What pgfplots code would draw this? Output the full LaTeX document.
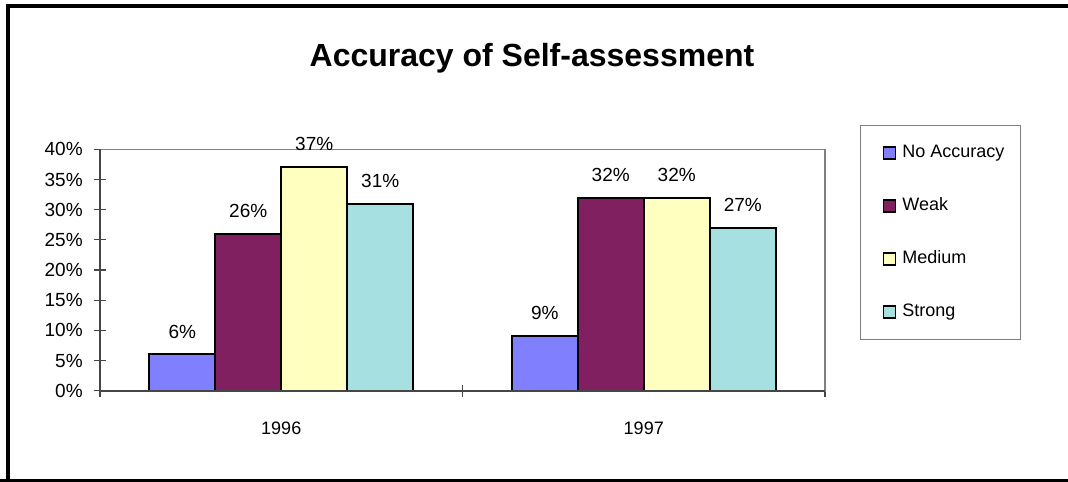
\documentclass[border=0pt]{standalone}
\usepackage{pgfplots}
\pgfplotsset{compat=1.18}
\usepackage{fontspec}
\setmainfont{Liberation Sans}

\definecolor{noacc}{RGB}{128,128,255}
\definecolor{weak}{RGB}{128,32,96}
\definecolor{medium}{RGB}{255,255,192}
\definecolor{strong}{RGB}{166,224,224}
\definecolor{frame}{RGB}{128,128,128}
\definecolor{axisdark}{RGB}{70,70,70}

\begin{document}
\begin{tikzpicture}
\useasboundingbox (0pt,0pt) rectangle (534pt,240.5pt);
% outer chart frame (right side runs off the page)
\draw[line width=2pt,line join=miter] (545pt,237.5pt) -- (4pt,237.5pt) -- (4pt,-2pt);
\draw[line width=2pt] (0pt,0pt) -- (545pt,0pt);
% chart title
\node[font=\fontsize{16}{19}\selectfont\bfseries] at (266pt,211.5pt) {Accuracy of Self-assessment};
\begin{axis}[
  scale only axis,
  width=362.5pt, height=120.7pt,
  at={(50pt,45.15pt)}, anchor=south west,
  ybar=0pt, bar width=33pt,
  xmin=-0.5, xmax=1.5, ymin=0, ymax=40,
  xtick={0,1}, xticklabels={1996,1997},
  minor xtick={-0.5,0.5,1.5},
  major x tick style={draw=none},
  ytick={0,5,...,40},
  yticklabels={0\%,5\%,10\%,15\%,20\%,25\%,30\%,35\%,40\%},
  tick pos=left,
  tick align=center,
  major tick length=6.3pt, minor tick length=6pt,
  tick style={axisdark, line width=0.6pt},
  axis line style={frame, line width=0.8pt},
  tick label style={font=\fontsize{9.5}{11}\selectfont},
  yticklabel style={anchor=east, inner xsep=0pt, xshift=-5.3pt},
  xticklabel style={font=\fontsize{9}{11}\selectfont, anchor=base, yshift=-18.6pt},
  /pgf/number format/assume math mode=true,
  clip=false,
  nodes near coords={\pgfmathprintnumber{\pgfplotspointmeta}\%},
  every node near coord/.append style={font=\fontsize{9.5}{11}\selectfont, anchor=center, yshift=11.5pt},
  legend cell align=left,
  legend image code/.code={\path (0pt,0pt); \draw[#1,line width=0.8pt] (3pt,-3pt) rectangle (9pt,3pt);},
  legend style={at={(1.0483,1.1007)}, anchor=north west, draw=frame, line width=0.6pt,
    fill=white, font=\fontsize{9}{11}\selectfont,
    inner xsep=8pt, inner ysep=9.6pt, row sep=18.2pt,
    nodes={inner sep=0pt, text height=6.5pt, text depth=1.8pt},
    /tikz/every odd column/.append style={column sep=3pt}},
]
\addplot[draw=black, line width=1pt, fill=noacc] coordinates {(0,6) (1,9)};
\addplot[draw=black, line width=1pt, fill=weak] coordinates {(0,26) (1,32)};
\addplot[draw=black, line width=1pt, fill=medium] coordinates {(0,37) (1,32)};
\addplot[draw=black, line width=1pt, fill=strong] coordinates {(0,31) (1,27)};
\legend{No Accuracy, Weak, Medium, Strong}
% darker value and category axes over the plot-area border
\draw[axisdark, line width=0.8pt] (rel axis cs:0,1) -- (rel axis cs:0,0) -- (rel axis cs:1,0);
\end{axis}
\end{tikzpicture}
\end{document}
